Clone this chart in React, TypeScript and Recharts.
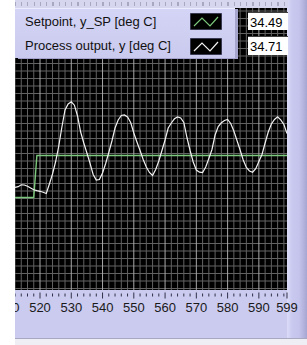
import React from "react";
import { LineChart, Line, XAxis, YAxis, ReferenceLine } from "recharts";

const time = [
  512, 513, 514, 515, 516, 517, 518, 519, 520, 521, 522, 523, 524, 525, 526, 527, 528, 529, 530,
  531, 532, 533, 534, 535, 536, 537, 538, 539, 540, 541, 542, 543, 544, 545, 546, 547, 548, 549, 550,
  551, 552, 553, 554, 555, 556, 557, 558, 559, 560, 561, 562, 563, 564, 565, 566, 567, 568, 569, 570,
  571, 572, 573, 574, 575, 576, 577, 578, 579, 580, 581, 582, 583, 584, 585, 586, 587, 588, 589, 590,
  591, 592, 593, 594, 595, 596, 597, 598, 599,
];

const processOutput = [
  34.172, 34.178, 34.197, 34.195, 34.182, 34.165, 34.147, 34.138, 34.132, 34.122, 34.11, 34.205, 34.305,
  34.43, 34.585, 34.775, 34.945, 35.005, 35.027,
  34.993, 34.885, 34.725, 34.615, 34.515, 34.412, 34.3, 34.245, 34.25, 34.315, 34.41, 34.52, 34.635,
  34.765, 34.845, 34.89, 34.895, 34.875, 34.82, 34.715,
  34.625, 34.54, 34.45, 34.375, 34.32, 34.29, 34.35, 34.435, 34.54, 34.645, 34.765, 34.815, 34.857,
  34.875, 34.865, 34.82, 34.67, 34.54, 34.425, 34.345,
  34.323, 34.32, 34.375, 34.46, 34.55, 34.695, 34.78, 34.817, 34.84, 34.85, 34.81, 34.735, 34.64,
  34.545, 34.445, 34.37, 34.335, 34.323, 34.358, 34.43,
  34.5, 34.615, 34.725, 34.805, 34.85, 34.877, 34.847, 34.8, 34.71,
];

const setpoint = [
  34.07, 34.07, 34.07, 34.07, 34.07, 34.07, 34.07, 34.49, 34.49, 34.49, 34.49, 34.49, 34.49, 34.49,
  34.49, 34.49, 34.49, 34.49, 34.49,
  34.49, 34.49, 34.49, 34.49, 34.49, 34.49, 34.49, 34.49, 34.49, 34.49, 34.49, 34.49, 34.49, 34.49,
  34.49, 34.49, 34.49, 34.49, 34.49, 34.49,
  34.49, 34.49, 34.49, 34.49, 34.49, 34.49, 34.49, 34.49, 34.49, 34.49, 34.49, 34.49, 34.49, 34.49,
  34.49, 34.49, 34.49, 34.49, 34.49, 34.49,
  34.49, 34.49, 34.49, 34.49, 34.49, 34.49, 34.49, 34.49, 34.49, 34.49, 34.49, 34.49, 34.49, 34.49,
  34.49, 34.49, 34.49, 34.49, 34.49, 34.49,
  34.49, 34.49, 34.49, 34.49, 34.49, 34.49, 34.49, 34.49, 34.49,
];

const xTicks = [
  510, 512, 514, 516, 518, 520, 522, 524, 526, 528, 530, 532, 534, 536, 538, 540, 542, 544, 546, 548,
  550, 552, 554, 556, 558, 560, 562, 564, 566, 568, 570, 572, 574, 576, 578, 580, 582, 584, 586, 588,
  590, 592, 594, 596, 598, 599,
];
const xLabels = [510, 520, 530, 540, 550, 560, 570, 580, 590, 599];
const xMinorGrid = [
  512, 514, 516, 518, 522, 524, 526, 528, 532, 534, 536, 538, 542, 544, 546, 548, 552, 554, 556, 558,
  562, 564, 566, 568, 572, 574, 576, 578, 582, 584, 586, 588, 592, 594, 596, 598,
];
const xMajorGrid = [520, 530, 540, 550, 560, 570, 580, 590];

const yGrid = [
  33.16, 33.235, 33.31, 33.385, 33.46, 33.535, 33.61, 33.685, 33.76, 33.835, 33.91, 33.985, 34.06,
  34.135, 34.21, 34.285, 34.36, 34.435, 34.51, 34.585, 34.66, 34.735, 34.81, 34.885, 34.96, 35.035,
  35.11, 35.185, 35.26, 35.335, 35.41, 35.485, 35.56, 35.635, 35.71, 35.785, 35.86, 35.935,
];

const legendNames = ["Setpoint, y_SP [deg C]", "Process output, y [deg C]"];
const currentValues = ["34.49", "34.71"];

const data = time.map((t, i) => ({ t, sp: setpoint[i], pv: processOutput[i] }));

const FONT = "'Liberation Sans', Arial, sans-serif";

const XTick = (props: any) => {
  const { x, y, payload } = props;
  const v = payload.value;
  const major = xLabels.includes(v);
  return (
    <g>
      <line
        x1={x}
        x2={x}
        y1={y + (major ? 2.5 : 3.5)}
        y2={y + (major ? 8.5 : 6.5)}
        stroke="#303048"
        strokeWidth={1}
      />
      {major && (
        <text x={x} y={y + 21.7} textAnchor="middle" fontSize={13} fill="#1a1a1a" fontFamily={FONT}>
          {v}
        </text>
      )}
    </g>
  );
};

const Icon = ({ color }: { color: string }) => (
  <svg width={32} height={17} style={{ display: "block" }}>
    <rect x={0} y={0} width={32} height={17} fill="#000" stroke="#7070a0" />
    <polyline points="4,13 12,5 20,13 28,4" fill="none" stroke={color} strokeWidth={1.2} />
  </svg>
);

export default function App() {
  return (
    <div
      style={{
        position: "absolute",
        left: 0,
        top: 0,
        width: 307,
        height: 345,
        background: "#fff",
        overflow: "hidden",
        fontFamily: FONT,
      }}
    >
      <div style={{ position: "absolute", left: 15, top: 0, width: 292, height: 338, background: "#cbcbf0" }} />
      <div
        style={{
          position: "absolute",
          left: 287,
          top: 0,
          width: 20,
          height: 338,
          background: "linear-gradient(to right, #dcdcf8 0px, #c9c9f0 5px, #c4c4ec 12px, #a6a6d2 20px)",
        }}
      />
      {/* plot background */}
      <div style={{ position: "absolute", left: 15, top: 8, width: 272, height: 282, background: "#000" }} />
      <div style={{ position: "absolute", left: 0, top: 0 }}>
        <LineChart width={307} height={345} data={data} margin={{ top: 8, right: 20, bottom: 0, left: 15 }}>
          <XAxis
            dataKey="t"
            type="number"
            domain={[512, 599]}
            ticks={xTicks}
            interval={0}
            height={55}
            tickSize={0}
            tickMargin={0}
            axisLine={false}
            tickLine={false}
            tick={<XTick />}
            allowDataOverflow
          />
          <YAxis hide type="number" domain={[33.145, 35.965]} allowDataOverflow />
          {yGrid.map((v) => (
            <ReferenceLine key={"y" + v} y={v} stroke="#626262" strokeWidth={1} />
          ))}
          {xMinorGrid.map((v) => (
            <ReferenceLine key={"m" + v} x={v} stroke="#626262" strokeWidth={1} />
          ))}
          {xMajorGrid.map((v) => (
            <ReferenceLine key={"M" + v} x={v} stroke="#a8a8a8" strokeWidth={1} />
          ))}
          <Line type="linear" dataKey="sp" stroke="#7cc87c" strokeWidth={1.4} dot={false} isAnimationActive={false} />
          <Line type="linear" dataKey="pv" stroke="#f2f2f2" strokeWidth={1.2} dot={false} isAnimationActive={false} />
        </LineChart>
      </div>

      {/* top strip */}
      <div style={{ position: "absolute", left: 15, top: 0, width: 273, height: 8, background: "#d6d6ee" }}>
        <div
          style={{
            position: "absolute",
            left: 0,
            top: 2,
            width: 273,
            height: 4,
            background: "repeating-linear-gradient(to right, #a8a8c0 0px, #a8a8c0 1px, transparent 1px, transparent 6.25px)",
          }}
        />
      </div>

      {/* legend panel */}
      <div
        style={{
          position: "absolute",
          left: 15,
          top: 8,
          width: 220,
          height: 50,
          background: "linear-gradient(to bottom, #d4d4f6, #cacaee)",
          borderTop: "1px solid #ececff",
          boxSizing: "border-box",
          boxShadow: "3px 1px 0 #a4a4cc",
        }}
      >
        {legendNames.map((name, i) => (
          <div
            key={name}
            style={{
              position: "absolute",
              left: 10,
              top: i === 0 ? 5 : 29,
              fontSize: 13,
              lineHeight: "16px",
              color: "#111",
              whiteSpace: "nowrap",
            }}
          >
            {name}
          </div>
        ))}
        <div style={{ position: "absolute", left: 175, top: 4 }}>
          <Icon color="#7cc87c" />
        </div>
        <div style={{ position: "absolute", left: 175, top: 29 }}>
          <Icon color="#f2f2f2" />
        </div>
      </div>

      {/* digital displays */}
      {currentValues.map((v, i) => (
        <div
          key={i}
          style={{
            position: "absolute",
            left: 248,
            top: i === 0 ? 12 : 36,
            width: 40,
            height: i === 0 ? 18 : 19,
            background: "#fff",
            borderTop: "1px solid #404040",
            boxSizing: "border-box",
          }}
        >
          <div
            style={{
              position: "absolute",
              left: 2,
              top: i === 0 ? 2 : 2.4,
              fontSize: 13,
              lineHeight: "16px",
              color: "#000",
            }}
          >
            {v}
          </div>
        </div>
      ))}

      {/* bottom edge */}
      <div
        style={{
          position: "absolute",
          left: 15,
          top: 338,
          width: 292,
          height: 7,
          background: "#eeeef4",
          borderTop: "1px solid #a8a8c0",
        }}
      />
      {/* left white strip */}
      <div style={{ position: "absolute", left: 0, top: 0, width: 15, height: 345, background: "#fff" }} />
    </div>
  );
}
